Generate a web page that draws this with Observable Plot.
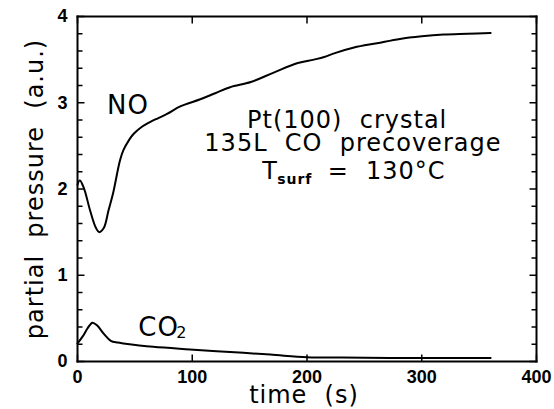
<!DOCTYPE html>
<html>
<head>
<meta charset="utf-8">
<script src="https://cdn.jsdelivr.net/npm/d3@7"></script>
<script src="https://cdn.jsdelivr.net/npm/@observablehq/plot@0.6"></script>
<style>
  html, body { margin: 0; padding: 0; background: white; }
  svg text { white-space: pre; letter-spacing: 1px; }
  g[aria-label="x-axis tick label"] text, g[aria-label="y-axis tick label"] text { letter-spacing: 0; }
</style>
</head>
<body>
<div id="chart"></div>
<script>
// NO signal (time in s, partial pressure in a.u.)
const noTime = [0, 2, 5, 7, 11, 16, 19, 23, 27, 31, 37, 40, 45, 49, 55, 61, 70, 78, 90, 107, 120, 133, 151, 171, 192, 206, 215, 223, 241, 261, 281, 300, 319, 340, 360];
const noValue = [2.05, 2.10, 2.03, 1.95, 1.75, 1.55, 1.50, 1.55, 1.75, 1.95, 2.33, 2.45, 2.57, 2.64, 2.71, 2.76, 2.82, 2.87, 2.96, 3.04, 3.11, 3.18, 3.24, 3.35, 3.46, 3.50, 3.53, 3.57, 3.64, 3.69, 3.74, 3.77, 3.79, 3.80, 3.81];

// CO2 signal
const co2Time = [0, 5, 9, 13, 17, 23, 29, 35, 40, 66, 98, 133, 168, 200, 230, 300, 360];
const co2Value = [0.21, 0.30, 0.39, 0.45, 0.42, 0.32, 0.24, 0.22, 0.21, 0.17, 0.14, 0.11, 0.08, 0.05, 0.045, 0.04, 0.04];

// Axis ticks
const xTicks = [0, 100, 200, 300, 400];
const yTicks = [0, 1, 2, 3, 4];
const yMinorTicks = [0.2, 0.4, 0.6, 0.8, 1.2, 1.4, 1.6, 1.8, 2.2, 2.4, 2.6, 2.8, 3.2, 3.4, 3.6, 3.8];

const noData = noTime.map((t, i) => ({t, p: noValue[i]}));
const co2Data = co2Time.map((t, i) => ({t, p: co2Value[i]}));

const xDomain = [0, 400];
const yDomain = [0, 4];

// tick lengths expressed in data units (x: 400 s over 459 px, y: 4 over 345 px)
const xMajorLen = 7 * 4 / 345;
const yMajorLen = 7 * 400 / 459;
const yMinorLen = 5 * 400 / 459;

const [x0, x1] = xDomain;
const [y0, y1] = yDomain;
const frameEdges = [
  {xa: x0, ya: y0, xb: x1, yb: y0},
  {xa: x1, ya: y0, xb: x1, yb: y1},
  {xa: x1, ya: y1, xb: x0, yb: y1},
  {xa: x0, ya: y1, xb: x0, yb: y0}
];
const tickSegs = [
  ...xTicks.map(v => ({xa: v, ya: y0, xb: v, yb: y0 + xMajorLen})),
  ...xTicks.map(v => ({xa: v, ya: y1, xb: v, yb: y1 - xMajorLen})),
  ...yTicks.map(v => ({xa: x0, ya: v, xb: x0 + yMajorLen, yb: v})),
  ...yMinorTicks.map(v => ({xa: x0, ya: v, xb: x0 + yMinorLen, yb: v})),
  ...yTicks.map(v => ({xa: x1, ya: v, xb: x1 - yMajorLen, yb: v})),
  ...yMinorTicks.map(v => ({xa: x1, ya: v, xb: x1 - yMinorLen, yb: v}))
];

const chart = Plot.plot({
  width: 554,
  height: 409,
  marginLeft: 77,
  marginRight: 18,
  marginTop: 16,
  marginBottom: 48,
  x: {domain: xDomain},
  y: {domain: yDomain},
  style: {fontFamily: "DejaVu Sans", background: "white", color: "black", overflow: "visible"},
  marks: [
    Plot.axisX({ticks: xTicks, tickSize: 0, tickPadding: 9, label: null, fontSize: 18, fontFamily: "Liberation Sans", fontWeight: "bold"}),
    Plot.axisY({ticks: yTicks, tickSize: 0, tickPadding: 10, tickFormat: "d", label: null, fontSize: 18, fontFamily: "Liberation Sans", fontWeight: "bold"}),
    // inward ticks
    Plot.link(tickSegs, {x1: "xa", y1: "ya", x2: "xb", y2: "yb", stroke: "black", strokeWidth: 1.5}),
    // frame
    Plot.link(frameEdges, {x1: "xa", y1: "ya", x2: "xb", y2: "yb", stroke: "black", strokeWidth: 2, strokeLinecap: "square"}),
    // data
    Plot.line(noData, {x: "t", y: "p", stroke: "black", strokeWidth: 2, curve: "catmull-rom"}),
    Plot.line(co2Data, {x: "t", y: "p", stroke: "black", strokeWidth: 2, curve: "catmull-rom"}),
    // axis titles
    Plot.text(["time  (s)"], {frameAnchor: "bottom", dy: 41, dx: -3, textAnchor: "middle", lineAnchor: "bottom", fontSize: 24}),
    Plot.text(["partial  pressure  (a.u.)"], {frameAnchor: "left", dx: -35, rotate: -90, textAnchor: "middle", lineAnchor: "bottom", fontSize: 24}),
    // curve labels
    Plot.text(["NO"], {x: 44, y: 2.875, lineAnchor: "bottom", fontSize: 26}),
    Plot.text(["CO"], {x: 53, y: 0.30, textAnchor: "start", lineAnchor: "bottom", fontSize: 26}),
    Plot.text(["2"], {x: 86, y: 0.267, textAnchor: "start", lineAnchor: "bottom", fontSize: 16}),
    // annotation block
    Plot.text(["Pt(100)  crystal"], {x: 235, y: 2.713, lineAnchor: "bottom", fontSize: 24}),
    Plot.text(["135L  CO  precoverage"], {x: 240, y: 2.446, lineAnchor: "bottom", fontSize: 24}),
    Plot.text(["T"], {x: 161, y: 2.12, textAnchor: "start", lineAnchor: "bottom", fontSize: 24}),
    Plot.text(["surf"], {x: 174, y: 2.06, textAnchor: "start", lineAnchor: "bottom", fontSize: 14, fontWeight: "bold"}),
    Plot.text(["=  130°C"], {x: 218, y: 2.12, textAnchor: "start", lineAnchor: "bottom", fontSize: 24})
  ]
});

document.getElementById("chart").appendChild(chart);
</script>
</body>
</html>
